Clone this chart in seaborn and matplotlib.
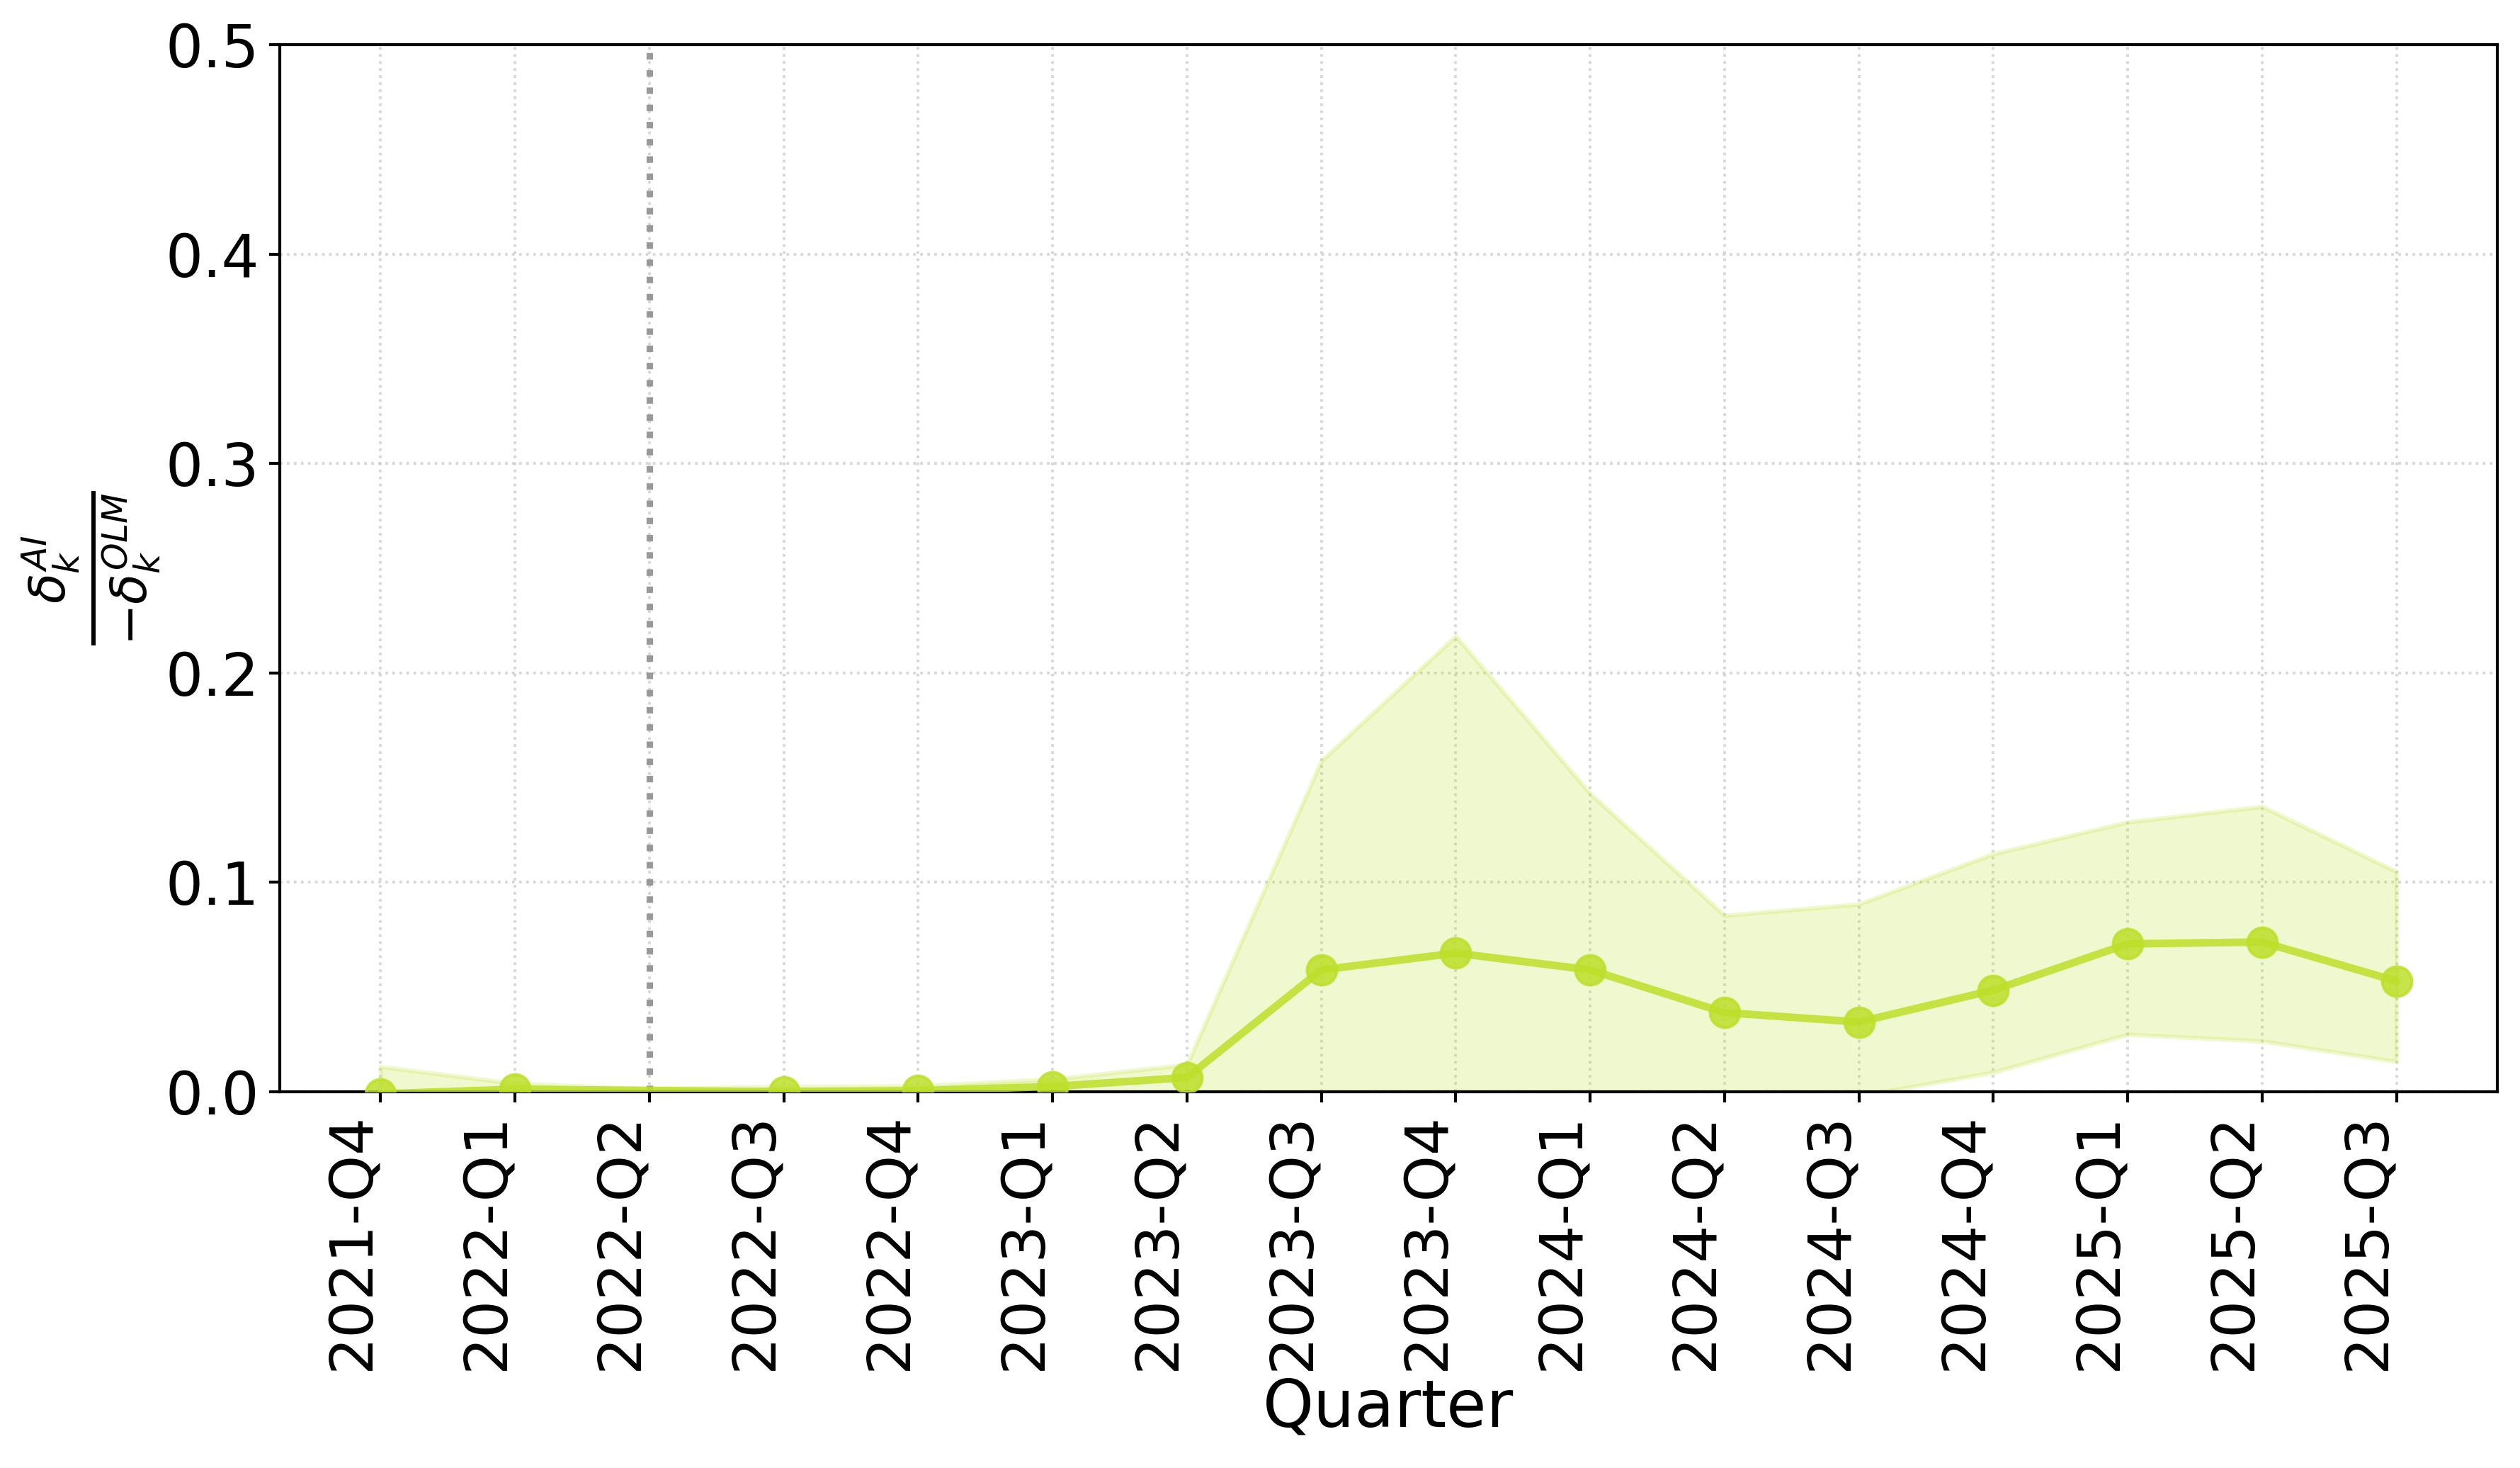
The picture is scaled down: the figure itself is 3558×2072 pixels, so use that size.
import numpy as np
import pandas as pd
import matplotlib
matplotlib.use("Agg")
import matplotlib.pyplot as plt
import seaborn as sns

quarters = ["2021-Q4", "2022-Q1", "2022-Q2", "2022-Q3", "2022-Q4",
            "2023-Q1", "2023-Q2", "2023-Q3", "2023-Q4", "2024-Q1",
            "2024-Q2", "2024-Q3", "2024-Q4", "2025-Q1", "2025-Q2", "2025-Q3"]
ratio = [-0.001, 0.0012, np.nan, 0.0, 0.0005,
         0.0025, 0.0068, 0.0582, 0.0662, 0.0582,
         0.0378, 0.0333, 0.0485, 0.0706, 0.0715, 0.0528]
upper = [0.012, 0.004, 0.0015, 0.0025, 0.0028,
         0.006, 0.013, 0.158, 0.2176, 0.1424,
         0.0842, 0.0896, 0.1136, 0.1288, 0.1362, 0.1051]
lower = [-0.004, -0.002, -0.002, -0.002, -0.002,
         -0.003, -0.003, -0.04, -0.07, -0.03,
         -0.01, -0.002, 0.0093, 0.0274, 0.0242, 0.0144]
event_quarter = "2022-Q2"

sns.set_style("ticks")
plt.rcParams['font.family'] = ['DejaVu Sans']
plt.rcParams.update({
    "text.color": "black",
    "axes.labelcolor": "black",
    "xtick.color": "black",
    "ytick.color": "black",
    "axes.edgecolor": "black",
})

color = "#bde02a"

fig = plt.figure(figsize=(3558 / 300, 2072 / 300), dpi=300)
ax = fig.add_axes([0.111, 0.2563, 0.88, 0.7133])

idx = np.arange(len(quarters))
df = pd.DataFrame({"x": idx, "y": ratio, "lo": lower, "hi": upper})

ax.fill_between(df["x"], df["lo"], df["hi"], color=color, alpha=0.22,
                linewidth=1.5, zorder=2)
sns.lineplot(data=df, x="x", y="y", ax=ax, color=color, marker="o",
             markersize=10, linewidth=2.6, alpha=0.85, errorbar=None,
             markeredgecolor=color, markeredgewidth=1.0, zorder=3)

ax.axhline(0, color="black", linestyle="--", linewidth=1.0, alpha=0.6, zorder=1)
ax.axvline(quarters.index(event_quarter), color="#999999", linestyle=":",
           linewidth=2.2, zorder=1)

ax.grid(True, linestyle=":", color="#cccccc", linewidth=0.9, alpha=0.8)
ax.set_axisbelow(True)

ax.set_xlim(-0.75, len(quarters) - 0.25)
ax.set_ylim(0, 0.5)
ax.set_xticks(idx)
ax.set_xticklabels(quarters, rotation=90, ha="right", fontsize=20)
ax.set_yticks([0.0, 0.1, 0.2, 0.3, 0.4, 0.5])
ax.set_yticklabels(["0.0", "0.1", "0.2", "0.3", "0.4", "0.5"], fontsize=20)
ax.tick_params(axis="both", direction="out", length=3.5, width=1.0, color="black")

for s in ax.spines.values():
    s.set_visible(True)
    s.set_color("black")
    s.set_linewidth(1.0)

ax.set_xlabel("Quarter", fontsize=22, labelpad=2)
ax.set_ylabel(r"$\frac{\delta_k^{AI}}{-\delta_k^{OLM}}$", fontsize=24)
ax.yaxis.set_label_coords(-0.053, 0.5)

fig.savefig("out.png", dpi=300)
